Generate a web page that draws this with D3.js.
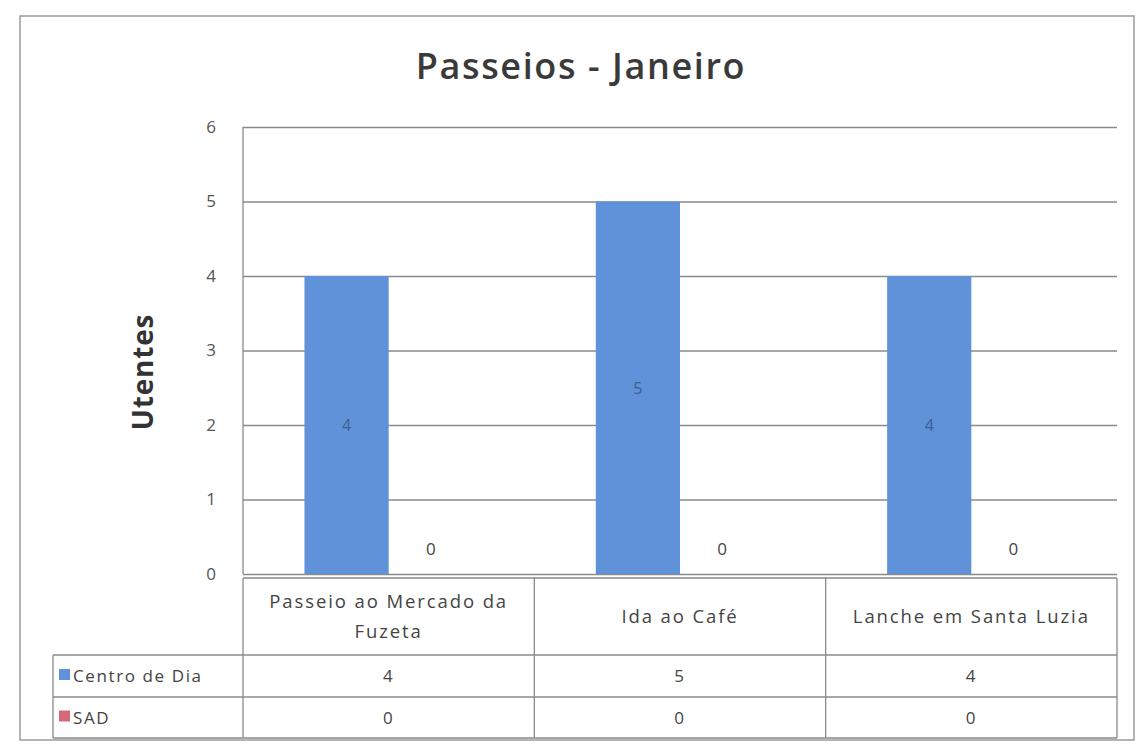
<!DOCTYPE html>
<html><head><meta charset="utf-8">
<script src="https://cdn.jsdelivr.net/npm/d3@7"></script>
<style>body{margin:0;background:#fff;}svg{display:block;}</style>
</head><body>
<svg id="c" width="1137" height="747"></svg>
<script>
const categories = ["Passeio ao Mercado da Fuzeta", "Ida ao Café", "Lanche em Santa Luzia"];
const catLines = [["Passeio ao Mercado da", "Fuzeta"], ["Ida ao Café"], ["Lanche em Santa Luzia"]];
const seriesNames = ["Centro de Dia", "SAD"];
const centroDeDia = [4, 5, 4];
const sad = [0, 0, 0];
const yTicks = [0, 1, 2, 3, 4, 5, 6];
const title = "Passeios - Janeiro";
const yLabel = "Utentes";

const colors = ["#5f92d9", "#d46a78"];
const font = "'Open Sans', 'Noto Sans', sans-serif";
const svg = d3.select("#c");

// outer border
svg.append("rect").attr("x", 20).attr("y", 16).attr("width", 1114).attr("height", 724)
  .attr("fill", "none").attr("stroke", "#9a9a9a").attr("stroke-width", 1.5);

const L = 243, R = 1117, T = 127, B = 574;
const x = d3.scaleBand().domain(categories).range([L, R]).paddingInner(0).paddingOuter(0);
const x1 = d3.scaleBand().domain(seriesNames).range([0, x.bandwidth()]).paddingOuter(0.73).paddingInner(0);
const y = d3.scaleLinear().domain([0, 6]).range([B, T]);

// gridlines
const grid = svg.append("g").attr("transform", `translate(${L},0)`)
  .call(d3.axisLeft(y).tickValues(yTicks).tickSize(-(R - L)).tickFormat(""));
grid.select(".domain").remove();
grid.selectAll(".tick line").attr("stroke", "#8a8a8a").attr("stroke-width", 1.3);

// y tick labels
const ya = svg.append("g").attr("transform", `translate(${L - 24},0)`)
  .call(d3.axisLeft(y).tickValues(yTicks).tickSize(0).tickFormat(d3.format("d")));
ya.select(".domain").remove();
ya.selectAll("text").attr("font-family", font).attr("font-size", 17).attr("fill", "#555");

// left axis line
svg.append("line").attr("x1", L).attr("x2", L).attr("y1", T).attr("y2", B)
  .attr("stroke", "#8a8a8a").attr("stroke-width", 1.3);

const series = [centroDeDia, sad];
series.forEach((vals, si) => {
  const g = svg.append("g");
  g.selectAll("rect").data(categories).join("rect")
    .attr("x", d => x(d) + x1(seriesNames[si]))
    .attr("y", (d, i) => y(vals[i]))
    .attr("width", x1.bandwidth())
    .attr("height", (d, i) => y(0) - y(vals[i]))
    .attr("fill", colors[si]);
  g.selectAll("text").data(categories).join("text")
    .attr("x", d => x(d) + x1(seriesNames[si]) + x1.bandwidth() / 2)
    .attr("y", (d, i) => vals[i] > 0 ? (y(vals[i]) + y(0)) / 2 + 6 : y(0) - 19)
    .attr("text-anchor", "middle").attr("font-family", font)
    .attr("font-size", (d, i) => vals[i] > 0 ? 16 : 17)
    .attr("fill", (d, i) => vals[i] > 0 ? "#3d5f92" : "#444")
    .text((d, i) => vals[i]);
});

// title
svg.append("text").attr("x", 581).attr("y", 79).attr("text-anchor", "middle")
  .attr("font-family", font).attr("font-size", 36).attr("font-weight", 600).attr("fill", "#3a3a3a")
  .attr("letter-spacing", 1.6)
  .text(title);

// y label
svg.append("text").attr("transform", "translate(153,372) rotate(-90)").attr("text-anchor", "middle")
  .attr("font-family", font).attr("font-size", 28).attr("font-weight", 700).attr("fill", "#333")
  .attr("letter-spacing", 0.8)
  .text(yLabel);

// data table
const tL = 53, rowTops = [578, 655, 697, 738];
const tg = svg.append("g").attr("stroke", "#8a8a8a").attr("stroke-width", 1.3).attr("fill", "none");
tg.append("line").attr("x1", L).attr("x2", R).attr("y1", rowTops[0]).attr("y2", rowTops[0]);
[1, 2, 3].forEach(r => tg.append("line").attr("x1", tL).attr("x2", R).attr("y1", rowTops[r]).attr("y2", rowTops[r]));
tg.append("line").attr("x1", tL).attr("x2", tL).attr("y1", rowTops[1]).attr("y2", rowTops[3]);
categories.forEach(c => tg.append("line").attr("x1", x(c)).attr("x2", x(c)).attr("y1", rowTops[0]).attr("y2", rowTops[3]));
tg.append("line").attr("x1", R).attr("x2", R).attr("y1", rowTops[0]).attr("y2", rowTops[3]);

const tt = svg.append("g").attr("font-family", font).attr("font-size", 17).attr("fill", "#444")
  .attr("letter-spacing", 1.6);
categories.forEach((c, i) => {
  const lines = catLines[i];
  const cy = (rowTops[0] + rowTops[1]) / 2;
  const lh = 30;
  lines.forEach((ln, k) => {
    tt.append("text").attr("x", x(c) + x.bandwidth() / 2)
      .attr("y", cy + (k - (lines.length - 1) / 2) * lh + 6)
      .attr("text-anchor", "middle").attr("font-size", 18.5).attr("letter-spacing", 1.9).text(ln);
  });
  series.forEach((vals, si) => {
    tt.append("text").attr("x", x(c) + x.bandwidth() / 2)
      .attr("y", (rowTops[si + 1] + rowTops[si + 2]) / 2 + 6)
      .attr("text-anchor", "middle").text(vals[i]);
  });
});
seriesNames.forEach((s, si) => {
  const cy = (rowTops[si + 1] + rowTops[si + 2]) / 2;
  svg.append("rect").attr("x", tL + 6).attr("y", cy - 7).attr("width", 11).attr("height", 11).attr("fill", colors[si]);
  tt.append("text").attr("x", tL + 20).attr("y", cy + 6).text(s);
});
</script>
</body></html>
